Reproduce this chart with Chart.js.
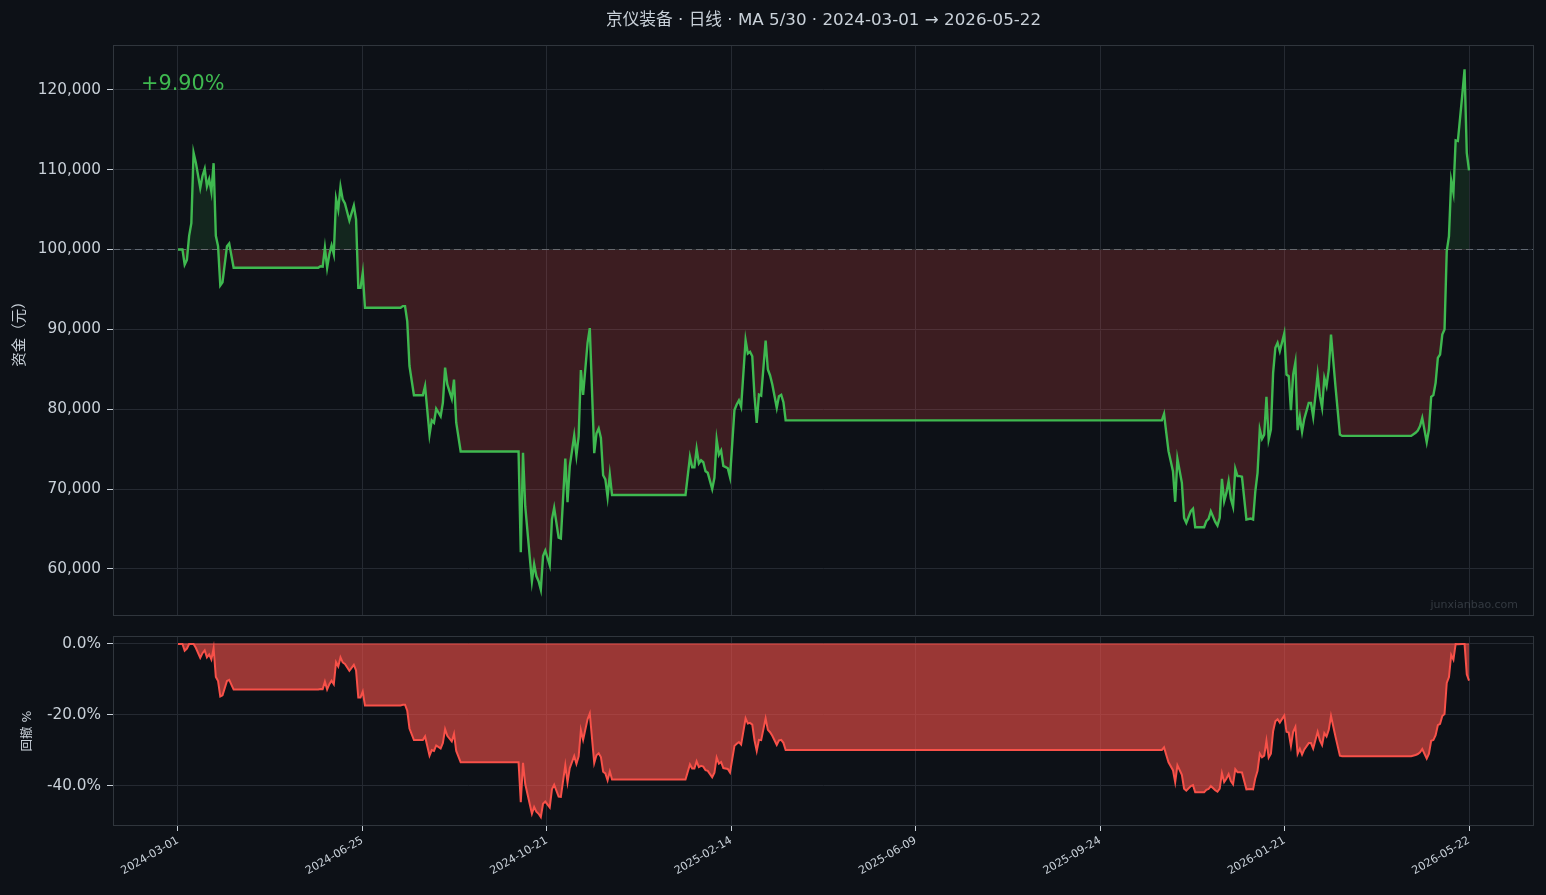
<!DOCTYPE html>
<html>
<head>
<meta charset="utf-8">
<script src="https://cdn.jsdelivr.net/npm/chart.js@4.4.1/dist/chart.umd.min.js"></script>
<style>
  html, body { margin: 0; padding: 0; background: #0d1117; }
  #wrap { position: relative; width: 1546px; height: 895px; }
  #eq { position: absolute; left: 0; top: 0; }
  #dd { position: absolute; left: 0; top: 626px; }
</style>
</head>
<body>
<div id="wrap">
  <canvas id="eq" width="1546" height="626"></canvas>
  <canvas id="dd" width="1546" height="269"></canvas>
</div>
<script>
// x tick labels (trading days, evenly spaced from first to last bar)
const tickLabels = ['2024-03-01', '2024-06-25', '2024-10-21', '2025-02-14',
                    '2025-06-09', '2025-09-24', '2026-01-21', '2026-05-22'];
const lastDay = 580;

// equity curve: bar index -> capital (yuan)
const dayIdx = [
  0, 2, 3, 4, 5, 6, 7, 8, 10, 11, 12, 13, 14, 15, 16, 17, 18, 19, 20, 22, 23, 25,
  63, 64, 65, 66, 67, 68, 69, 70, 71, 72, 73, 74, 75, 77, 79, 80, 81, 82, 83, 84,
  100, 101, 102, 103, 104, 106, 110, 111, 113, 114, 115, 116, 118, 119, 120, 121, 123, 124, 125, 127,
  153, 154, 155, 156, 159, 160, 161, 162, 163, 164, 165, 167, 168, 169, 171, 172, 174, 175, 176,
  178, 179, 180, 181, 182, 184, 185, 187, 188, 189, 190, 191, 192, 193, 194, 195,
  228, 230, 231, 232, 233, 234, 235, 236, 237, 238, 240, 241, 242, 243, 244, 245, 247, 248,
  250, 251, 252, 253, 255, 256, 257, 258, 259, 260, 261, 262, 264, 265, 266, 267, 269, 270, 271, 272, 273,
  442, 443, 444, 445, 447, 448, 449, 451, 452, 453, 455, 456, 457, 461, 462, 463, 464,
  466, 467, 468, 469, 470, 471, 472, 473, 474, 475, 476, 477, 478, 480,
  482, 483, 484, 485, 486, 487, 488, 489, 490, 491, 492, 493, 494, 495,
  497, 498, 499, 500, 501, 502, 503, 504, 505, 506, 508, 509, 510,
  512, 513, 514, 515, 516, 517, 518, 520, 522, 523,
  554, 556, 557, 558, 559, 561, 562, 563, 564, 565, 566, 567, 568, 569, 570, 571, 572, 573, 574, 575,
  577, 578, 579, 580
];
const equity = [
  100000, 100000, 98100, 98700, 101700, 103300, 112100, 110900, 107700, 109200, 110100, 107900, 108800, 107200, 110800, 101700, 100400, 95500, 95900, 100400, 100750, 97700,
  97700, 97900, 97850, 100200, 97700, 99400, 100500, 99400, 106350, 105000, 107850, 106260, 105760, 103630, 105500, 103760, 95200, 95200, 97080, 92700,
  92700, 92900, 92900, 91000, 85400, 81750, 81750, 82900, 76800, 78600, 78300, 80050, 79100, 80800, 85200, 83100, 81300, 83700, 78300, 74700,
  74700, 62100, 74530, 67850, 58450, 60600, 59100, 58450, 57400, 61600, 62300, 60450, 66200, 67650, 63900, 63800, 73800, 68350, 72850,
  76700, 74200, 76600, 84900, 81800, 88300, 90150, 74500, 76950, 77580, 76400, 71730, 71200, 69000, 71800, 69250,
  69250, 74030, 72730, 72730, 75030, 73200, 73600, 73350, 72230, 72030, 70000, 71400, 76200, 74300, 74820, 72900, 72600, 71480,
  79900, 80580, 81100, 80300, 88640, 86970, 87180, 86630, 81630, 78290, 81830, 81700, 88600, 84970, 84220, 83100, 80170, 81630, 81800, 80870, 78600,
  78600, 79420, 77040, 74740, 72230, 68400, 73780, 70770, 66390, 65760, 67220, 67520, 65220, 65220, 65990, 66270, 67220,
  65890, 65420, 66390, 71270, 68470, 69510, 70980, 68770, 67770, 72530, 71610, 71610, 71530, 66180,
  66300, 66180, 69720, 72030, 77450, 76280, 76820, 81540, 76200, 77450, 84550, 87680, 88310, 87260,
  89480, 84340, 84130, 79870, 84340, 85880, 77370, 79040, 77160, 78790, 80790, 80790, 79040,
  84340, 81630, 80170, 83920, 82880, 84970, 89350, 82880, 76820, 76650,
  76650, 77040, 77330, 77870, 78910, 75860, 77450, 81540, 81750, 83300, 86430, 86850, 89350, 89980, 99790, 101670, 108640, 107100, 113650, 113570,
  119420, 122550, 112100, 109900
];

const baseCapital = 100000;
const eqTicks = [60000, 70000, 80000, 90000, 100000, 110000, 120000];
const ddTicks = [-40, -20, 0];

const FONT = '"DejaVu Sans", "Noto Sans CJK SC", sans-serif';
const TXT = '#c9d1d9';
const GRID = '#252a32';
const FRAME = '#30363d';
const GREEN = '#3fb950';
const RED = '#f85149';
const X_MIN = -29.2, X_MAX = 609.2;

const xTickPos = tickLabels.map((_, i) => i * lastDay / (tickLabels.length - 1));

// drawdown from running peak
let peak = -Infinity;
const drawdown = equity.map(v => {
  peak = Math.max(peak, v);
  return (v / peak - 1) * 100;
});

const eqPoints = dayIdx.map((d, i) => ({ x: d, y: equity[i] }));
const ddPoints = dayIdx.map((d, i) => ({ x: d, y: drawdown[i] }));
const totalReturn = (equity[equity.length - 1] / equity[0] - 1) * 100;

function fitY(s) {
  s.width = 113;
  s.paddingTop = 0;
  s.paddingBottom = 0;
}

function drawFrame(chart) {
  const { ctx, chartArea: a } = chart;
  ctx.save();
  ctx.strokeStyle = FRAME;
  ctx.lineWidth = 1;
  ctx.strokeRect(a.left + 0.5, a.top + 0.5, a.width - 1, a.height - 1);
  ctx.restore();
}

const eqOverlay = {
  id: 'eqOverlay',
  beforeDatasetsDraw(chart) {
    const { ctx, chartArea: a, scales: { y } } = chart;
    const py = Math.round(y.getPixelForValue(baseCapital)) + 0.5;
    ctx.save();
    ctx.strokeStyle = 'rgba(139,148,158,0.6)';
    ctx.lineWidth = 1;
    ctx.setLineDash([7, 4]);
    ctx.beginPath();
    ctx.moveTo(a.left, py);
    ctx.lineTo(a.right, py);
    ctx.stroke();
    ctx.restore();
  },
  afterDraw(chart) {
    const { ctx, chartArea: a } = chart;
    drawFrame(chart);
    ctx.save();
    ctx.fillStyle = TXT;
    ctx.font = '16.7px ' + FONT;
    ctx.textAlign = 'center';
    ctx.textBaseline = 'middle';
    ctx.fillText('京仪装备 · 日线 · MA 5/30 · 2024-03-01 → 2026-05-22', (a.left + a.right) / 2, 21);

    ctx.fillStyle = totalReturn >= 0 ? GREEN : RED;
    ctx.font = '20.8px ' + FONT;
    ctx.textAlign = 'left';
    ctx.fillText((totalReturn >= 0 ? '+' : '') + totalReturn.toFixed(2) + '%', a.left + 28, 85);

    ctx.fillStyle = 'rgba(139,148,158,0.3)';
    ctx.font = '11px ' + FONT;
    ctx.textAlign = 'right';
    ctx.textBaseline = 'alphabetic';
    ctx.fillText('junxianbao.com', a.right - 16, a.bottom - 8);
    ctx.restore();
  }
};

const ddOverlay = {
  id: 'ddOverlay',
  afterDraw(chart) { drawFrame(chart); }
};

new Chart(document.getElementById('eq'), {
  type: 'line',
  data: {
    datasets: [{
      data: eqPoints,
      borderColor: GREEN,
      borderWidth: 2.4,
      pointRadius: 0,
      tension: 0,
      fill: {
        target: { value: baseCapital },
        above: 'rgba(63,185,80,0.13)',
        below: 'rgba(248,81,73,0.2)'
      }
    }]
  },
  options: {
    responsive: false,
    animation: false,
    layout: { padding: { top: 45, right: 12, bottom: 10, left: 0 } },
    plugins: { legend: { display: false }, tooltip: { enabled: false } },
    scales: {
      x: {
        type: 'linear', min: X_MIN, max: X_MAX,
        afterBuildTicks: s => { s.ticks = xTickPos.map(v => ({ value: v })); },
        afterFit: s => { s.height = 0; s.paddingLeft = 0; s.paddingRight = 0; },
        ticks: { display: false },
        grid: { color: GRID, drawTicks: false },
        border: { display: false }
      },
      y: {
        min: 54100, max: 125600,
        afterBuildTicks: s => { s.ticks = eqTicks.map(v => ({ value: v })); },
        afterFit: fitY,
        ticks: {
          color: TXT, padding: 6,
          font: { family: FONT, size: 15.3 },
          callback: v => v.toLocaleString('en-US')
        },
        grid: { color: GRID, tickLength: 6, tickColor: TXT },
        border: { display: false },
        title: {
          display: true, text: '资金（元）', color: TXT,
          font: { family: FONT, size: 14.5 },
          padding: { top: 12, bottom: 0 }
        }
      }
    }
  },
  plugins: [eqOverlay]
});

new Chart(document.getElementById('dd'), {
  type: 'line',
  data: {
    datasets: [{
      data: ddPoints,
      borderColor: RED,
      borderWidth: 2,
      pointRadius: 0,
      tension: 0,
      fill: { target: { value: 0 }, below: 'rgba(248,81,73,0.6)', above: 'rgba(248,81,73,0.6)' }
    }, {
      // top edge of the drawdown area
      data: [{ x: dayIdx[0], y: 0 }, { x: dayIdx[dayIdx.length - 1], y: 0 }],
      borderColor: 'rgba(248,81,73,0.6)',
      borderWidth: 1.5,
      pointRadius: 0,
      fill: false
    }]
  },
  options: {
    responsive: false,
    animation: false,
    layout: { padding: { top: 10, right: 12, bottom: 0, left: 0 } },
    plugins: { legend: { display: false }, tooltip: { enabled: false } },
    scales: {
      x: {
        type: 'linear', min: X_MIN, max: X_MAX,
        afterBuildTicks: s => { s.ticks = xTickPos.map(v => ({ value: v })); },
        afterFit: s => { s.height = 69; s.paddingLeft = 0; s.paddingRight = 0; },
        ticks: {
          color: TXT, padding: 3, autoSkip: false,
          minRotation: 30, maxRotation: 30,
          font: { family: FONT, size: 11.1 },
          callback: (v, i) => tickLabels[i]
        },
        grid: { color: GRID, tickLength: 5, tickColor: TXT },
        border: { display: false }
      },
      y: {
        min: -51.3, max: 2.25,
        afterBuildTicks: s => { s.ticks = ddTicks.map(v => ({ value: v })); },
        afterFit: fitY,
        ticks: {
          color: TXT, padding: 6,
          font: { family: FONT, size: 15.3 },
          callback: v => v.toFixed(1) + '%'
        },
        grid: { color: GRID, tickLength: 6, tickColor: TXT },
        border: { display: false },
        title: {
          display: true, text: '回撤 %', color: TXT,
          font: { family: FONT, size: 12.5 },
          padding: { top: 20, bottom: 0 }
        }
      }
    }
  },
  plugins: [ddOverlay]
});
</script>
</body>
</html>
